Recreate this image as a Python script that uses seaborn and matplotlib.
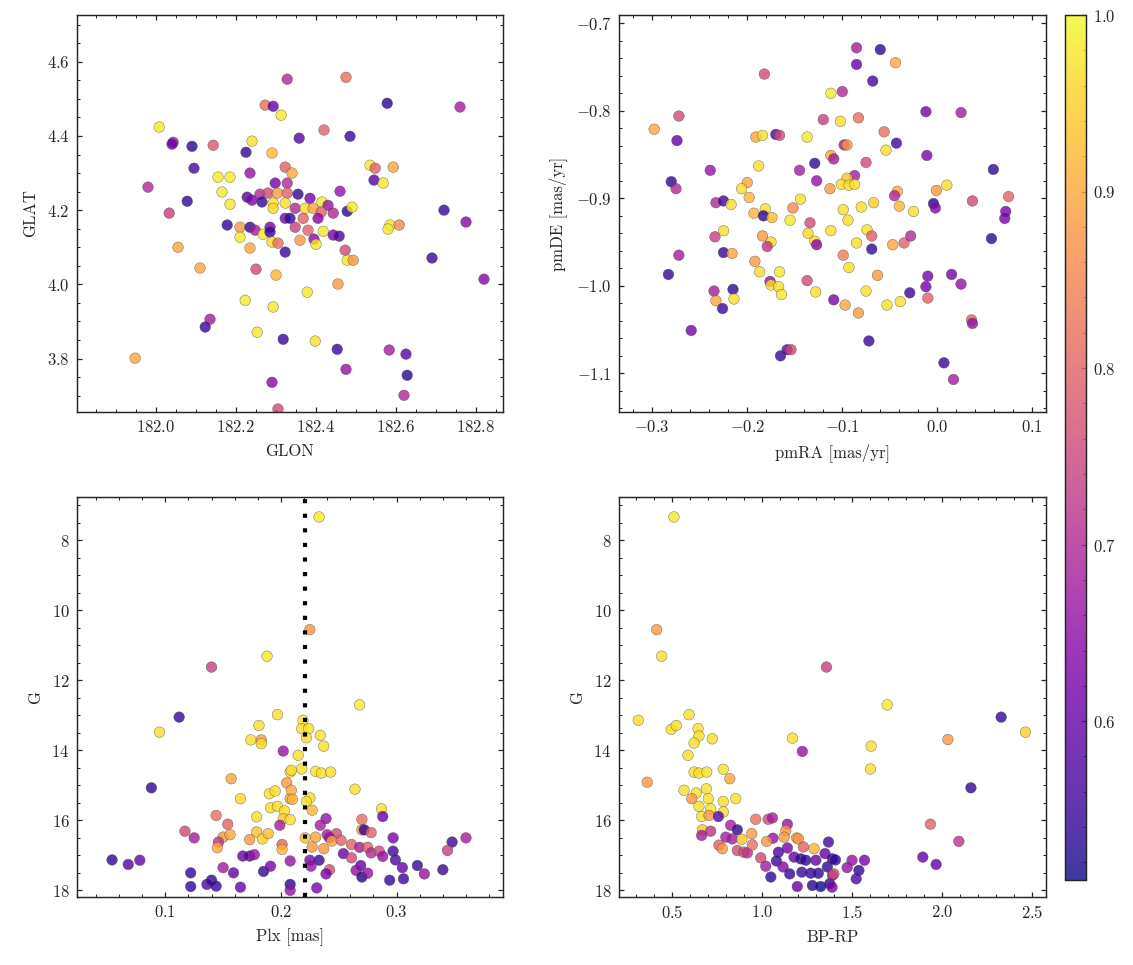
import matplotlib
matplotlib.use("Agg")
import matplotlib.pyplot as plt
from matplotlib.ticker import MultipleLocator, AutoMinorLocator
import seaborn as sns

# ---------------------------------------------
# Data
# ---------------------------------------------

# panel 1: sky position
glon = [182.008, 182.043, 182.040, 182.090, 182.143, 182.225, 182.240, 182.290, 182.273, 182.293,
        182.313, 182.328, 182.095, 181.980, 182.078, 182.033, 182.155, 182.185, 182.165, 182.185,
        182.235, 182.228, 182.240, 182.260, 182.265, 182.280, 182.298, 182.328, 182.323, 182.340,
        182.303, 182.328, 182.293, 182.293, 182.323, 182.475, 182.578, 182.760, 182.420, 182.358,
        182.485, 182.535, 182.548, 182.593, 182.545, 182.568, 182.460, 182.720, 182.355, 182.385,
        182.415, 182.430, 182.478, 182.490, 182.348, 182.373, 182.393, 182.413, 182.443, 182.055,
        182.110, 182.178, 182.210, 182.210, 182.235, 182.248, 182.268, 182.285, 182.285, 182.290,
        182.305, 182.323, 182.235, 182.250, 182.300, 182.223, 182.293, 182.135, 182.123, 182.253,
        182.318, 181.948, 182.290, 182.305, 182.323, 182.335, 182.348, 182.368, 182.405, 182.380,
        182.418, 182.395, 182.400, 182.360, 182.443, 182.458, 182.473, 182.478, 182.493, 182.585,
        182.580, 182.608, 182.775, 182.690, 182.820, 182.455, 182.378, 182.398, 182.453, 182.475,
        182.583, 182.625, 182.628, 182.620]
glat = [4.424, 4.383, 4.378, 4.372, 4.375, 4.356, 4.386, 4.354, 4.483, 4.480,
        4.456, 4.553, 4.313, 4.262, 4.224, 4.192, 4.289, 4.289, 4.249, 4.216,
        4.300, 4.235, 4.227, 4.243, 4.222, 4.246, 4.273, 4.273, 4.316, 4.300,
        4.246, 4.246, 4.219, 4.205, 4.219, 4.558, 4.488, 4.478, 4.416, 4.394,
        4.399, 4.321, 4.313, 4.316, 4.281, 4.273, 4.251, 4.200, 4.243, 4.232,
        4.222, 4.213, 4.197, 4.208, 4.205, 4.205, 4.205, 4.195, 4.192, 4.100,
        4.044, 4.160, 4.154, 4.127, 4.154, 4.146, 4.135, 4.154, 4.141, 4.114,
        4.111, 4.087, 4.098, 4.041, 4.025, 3.957, 3.939, 3.906, 3.885, 3.871,
        3.852, 3.801, 3.736, 3.664, 4.178, 4.178, 4.154, 4.178, 4.178, 4.146,
        4.143, 4.122, 4.108, 4.119, 4.133, 4.130, 4.092, 4.065, 4.065, 4.160,
        4.149, 4.160, 4.168, 4.071, 4.014, 4.001, 3.979, 3.847, 3.825, 3.771,
        3.823, 3.812, 3.755, 3.701]
prob_sky = [.98, .68, .60, .53, .78, .54, .97, .92, .82, .60,
            .98, .70, .57, .70, .54, .74, .98, .98, .98, .98,
            .66, .58, .62, .70, .54, .76, .62, .70, .80, .90,
            .88, .80, .97, .96, .97, .82, .53, .68, .80, .58,
            .55, .98, .80, .90, .58, .98, .66, .54, .54, .62,
            .98, .66, .53, .98, .70, .97, .90, .80, .70, .90,
            .90, .54, .88, .98, .54, .68, .98, .62, .55, .96,
            .82, .55, .90, .76, .92, .98, .98, .68, .55, .98,
            .55, .90, .64, .76, .62, .54, .74, .80, .64, .80,
            .98, .64, .98, .88, .62, .57, .76, .98, .88, .98,
            .98, .86, .64, .55, .64, .88, .98, .97, .55, .66,
            .68, .58, .53, .70]

# panel 2: proper motions
pmra = [-0.182, -0.112, -0.272, -0.298, -0.274, -0.120, -0.191, -0.184, -0.170, -0.166,
        -0.137, -0.188, -0.239, -0.280, -0.275, -0.200, -0.206, -0.198, -0.233, -0.225,
        -0.217, -0.193, -0.181, -0.183, -0.174, -0.144, -0.152, -0.155, -0.145, -0.129,
        -0.127, -0.112, -0.109, -0.113, -0.225, -0.234, -0.184, -0.175, -0.179, -0.134,
        -0.136, -0.129, -0.127, -0.112, -0.272, -0.225, -0.216, -0.283, -0.192, -0.187,
        -0.166, -0.176, -0.175, -0.167, -0.164, -0.137, -0.128, -0.109, -0.235, -0.233,
        -0.226, -0.215, -0.214, -0.259, -0.165, -0.158, -0.154,
        -0.085, -0.060, -0.044, -0.085, -0.068, -0.100, -0.012, 0.025, -0.102, -0.083,
        -0.056, -0.043, -0.054, -0.098, -0.095, -0.011, -0.075, 0.059, -0.087, -0.095,
        -0.101, -0.093, -0.087, -0.042, -0.045, -0.001, 0.010, -0.004, -0.002, 0.037,
        0.075, 0.072, 0.071, -0.099, -0.094, -0.080, -0.067, -0.040, -0.025, -0.074,
        -0.069, -0.069, -0.085, -0.047, -0.035, -0.028, 0.057, -0.099, -0.093, -0.063,
        -0.010, -0.012, -0.010, 0.015, 0.025, -0.029, -0.075, -0.053, -0.039, -0.097,
        -0.083, 0.036, 0.037, -0.072, 0.007, 0.017]
pmde = [-0.758, -0.780, -0.806, -0.821, -0.834, -0.810, -0.830, -0.828, -0.827, -0.828,
        -0.830, -0.863, -0.868, -0.881, -0.889, -0.882, -0.889, -0.899, -0.905, -0.903,
        -0.907, -0.917, -0.912, -0.920, -0.922, -0.901, -0.911, -0.925, -0.868, -0.860,
        -0.880, -0.851, -0.855, -0.889, -0.937, -0.944, -0.943, -0.950, -0.955, -0.928,
        -0.940, -0.949, -0.953, -0.937, -0.965, -0.962, -0.963, -0.987, -0.972, -0.984,
        -0.984, -0.995, -0.999, -1.001, -1.010, -0.994, -1.007, -1.016, -1.006, -1.017,
        -1.026, -1.004, -1.015, -1.051, -1.080, -1.073, -1.073,
        -0.728, -0.730, -0.745, -0.747, -0.766, -0.778, -0.801, -0.802, -0.812, -0.808,
        -0.824, -0.837, -0.845, -0.839, -0.839, -0.851, -0.859, -0.867, -0.874, -0.877,
        -0.884, -0.885, -0.884, -0.892, -0.897, -0.891, -0.885, -0.906, -0.911, -0.903,
        -0.898, -0.915, -0.923, -0.913, -0.925, -0.910, -0.905, -0.909, -0.915, -0.936,
        -0.943, -0.958, -0.951, -0.953, -0.951, -0.943, -0.946, -0.965, -0.979, -0.988,
        -0.989, -1.001, -1.014, -0.987, -0.998, -1.008, -1.006, -1.022, -1.018, -1.022,
        -1.031, -1.039, -1.043, -1.063, -1.088, -1.107]
prob_pm = [.76, .98, .76, .90, .60, .74, .90, .97, .56, .76,
           .98, .97, .66, .54, .70, .90, .97, .92, .70, .55,
           .97, .92, .97, .53, .93, .97, .86, .98, .68, .54,
           .66, .90, .68, .88, .97, .74, .88, .96, .72, .76,
           .96, .96, .64, .97, .68, .55, .90, .54, .88, .97,
           .98, .66, .97, .97, .98, .76, .97, .62, .68, .90,
           .55, .54, .97, .62, .55, .58, .76,
           .68, .54, .90, .60, .56, .70, .62, .68, .97, .82,
           .82, .56, .97, .68, .88, .63, .76, .54, .68, .94,
           .97, .97, .97, .90, .70, .88, .97, .53, .64, .76,
           .80, .62, .62, .97, .97, .97, .95, .92, .97, .97,
           .80, .54, .97, .90, .80, .70, .54, .84, .97, .88,
           .62, .62, .80, .62, .66, .55, .97, .97, .97, .90,
           .88, .80, .66, .55, .55, .68]

# panel 3: parallax vs G
plx = [0.188, 0.140, 0.112, 0.095, 0.197, 0.181, 0.174, 0.183, 0.183, 0.202,
       0.088, 0.157, 0.165, 0.190, 0.195, 0.191, 0.197, 0.205, 0.208, 0.208,
       0.203, 0.202, 0.179, 0.144, 0.154, 0.199, 0.117, 0.125, 0.150, 0.156,
       0.146, 0.145, 0.179, 0.184, 0.189, 0.173, 0.201, 0.201, 0.054, 0.068,
       0.078, 0.167, 0.173, 0.177, 0.122, 0.150, 0.159, 0.185, 0.191, 0.208,
       0.122, 0.136, 0.140, 0.144, 0.165, 0.208, 0.208,
       0.233, 0.225, 0.268, 0.219, 0.218, 0.224, 0.222, 0.234, 0.237, 0.215,
       0.209, 0.218, 0.230, 0.235, 0.243, 0.264, 0.209, 0.210, 0.225, 0.222,
       0.227, 0.208, 0.287, 0.288, 0.239, 0.234, 0.270, 0.270, 0.272, 0.278,
       0.221, 0.230, 0.240, 0.248, 0.242, 0.244, 0.252, 0.261, 0.268, 0.275,
       0.278, 0.285, 0.227, 0.237, 0.254, 0.261, 0.297, 0.297, 0.299, 0.288,
       0.305, 0.318, 0.324, 0.340, 0.348, 0.344, 0.360, 0.269, 0.265, 0.270,
       0.275, 0.294, 0.306, 0.242, 0.239, 0.233, 0.225, 0.226, 0.231]
g_plx = [11.31, 11.62, 13.05, 13.48, 12.98, 13.29, 13.70, 13.70, 13.81, 14.02,
         15.07, 14.81, 15.38, 15.24, 15.16, 15.64, 15.60, 14.93, 14.62, 15.38,
         15.73, 15.95, 15.90, 15.86, 16.11, 16.14, 16.31, 16.50, 16.48, 16.41,
         16.62, 16.78, 16.33, 16.53, 16.38, 16.55, 16.69, 16.83, 17.13, 17.26,
         17.14, 17.02, 17.02, 16.98, 17.50, 17.35, 17.50, 17.46, 17.31, 17.16,
         17.89, 17.83, 17.71, 17.88, 17.91, 17.83, 18.00,
         7.33, 10.55, 12.70, 13.14, 13.38, 13.38, 13.64, 13.57, 13.88, 14.14,
         14.57, 14.53, 14.60, 14.65, 14.62, 15.11, 15.14, 15.40, 15.36, 15.46,
         15.71, 15.98, 15.67, 15.89, 15.95, 16.14, 15.97, 16.27, 16.27, 16.35,
         16.50, 16.48, 16.41, 16.38, 16.50, 16.59, 16.57, 16.69, 16.77, 16.77,
         16.93, 16.88, 16.76, 16.81, 16.95, 17.07, 16.50, 16.88, 17.13, 17.03,
         17.35, 17.29, 17.53, 17.41, 16.62, 16.86, 16.50, 17.29, 17.43, 17.62,
         17.51, 17.71, 17.67, 17.41, 17.53, 17.14, 17.14, 17.31, 17.93]
prob_plx = [.98, .74, .55, .97, .97, .97, .97, .88, .97, .66,
            .54, .90, .96, .97, .97, .97, .97, .88, .97, .90,
            .97, .94, .97, .82, .80, .68, .76, .68, .88, .90,
            .72, .90, .93, .95, .93, .88, .80, .92, .54, .58,
            .60, .60, .58, .66, .54, .68, .60, .54, .62, .66,
            .54, .58, .54, .55, .60, .52, .66,
            .98, .88, .98, .97, .97, .97, .97, .97, .97, .97,
            .97, .97, .97, .97, .97, .97, .90, .92, .97, .97,
            .92, .97, .97, .60, .66, .68, .82, .88, .53, .80,
            .93, .90, .68, .76, .66, .90, .80, .80, .68, .80,
            .70, .76, .88, .88, .60, .76, .62, .56, .57, .66,
            .60, .55, .66, .55, .55, .74, .68, .60, .66, .52,
            .66, .54, .55, .76, .62, .55, .62, .66, .62]

# panel 4: colour-magnitude diagram
bprp = [0.509, 0.413, 0.441, 1.356, 0.311, 0.593, 0.494, 0.522, 0.643, 0.648,
        0.621, 0.722, 0.587, 1.167, 1.222, 0.361, 0.621, 0.648, 0.691, 0.783,
        0.819, 0.565, 0.633, 0.689, 0.608, 0.700, 0.783, 0.852, 0.648, 0.713,
        0.663, 0.704, 0.783, 0.756, 0.667, 0.713, 0.663, 0.824, 0.861, 0.797,
        0.833, 0.886, 0.759, 0.778, 0.861, 0.898, 0.917, 0.944, 0.941, 0.963,
        1.032, 1.056, 1.139, 1.130, 1.121, 1.059, 1.024, 1.191, 1.200, 1.228,
        1.139, 1.089, 1.287, 1.348, 1.367, 0.991, 1.019, 1.047, 1.078, 1.115,
        1.152, 1.176, 1.213, 1.241, 1.219, 1.194, 1.269, 1.311, 1.278, 1.324,
        1.297, 1.361, 1.389, 1.374, 1.389,
        1.693, 1.604, 1.600, 2.030, 2.326, 2.461, 2.158, 1.933, 2.091, 1.891,
        1.965, 1.498, 1.567, 1.471, 1.536, 1.521, 1.406, 1.397, 1.387]
g_cmd = [7.33, 10.55, 11.31, 11.62, 13.14, 12.98, 13.40, 13.29, 13.38, 13.59,
         13.79, 13.67, 14.14, 13.65, 14.03, 14.91, 14.62, 14.65, 14.62, 14.54,
         14.81, 15.14, 15.22, 15.10, 15.38, 15.38, 15.46, 15.38, 15.60, 15.67,
         15.89, 15.86, 15.76, 15.89, 16.27, 16.31, 16.43, 16.14, 16.27, 16.48,
         16.53, 16.54, 16.71, 16.81, 16.86, 16.91, 16.93, 16.70, 16.38, 15.97,
         15.97, 15.93, 16.11, 16.29, 16.48, 16.51, 16.60, 16.50, 16.53, 16.76,
         16.79, 16.91, 16.81, 16.95, 16.62, 17.07, 17.31, 17.62, 17.16, 17.33,
         17.53, 17.05, 17.10, 17.14, 17.48, 17.89, 17.51, 17.51, 17.86, 17.89,
         17.14, 17.33, 17.10, 17.81, 17.57,
         12.70, 13.88, 14.53, 13.69, 13.05, 13.48, 15.07, 16.11, 16.60, 17.05,
         17.26, 17.14, 17.14, 17.35, 17.43, 17.67, 17.13, 17.53, 17.91]
prob_cmd = [.98, .88, .97, .74, .97, .97, .97, .97, .97, .97,
            .97, .97, .97, .97, .66, .88, .97, .97, .97, .97,
            .90, .97, .97, .97, .88, .97, .97, .97, .97, .97,
            .97, .88, .97, .58, .94, .72, .68, .68, .54, .68,
            .68, .94, .80, .88, .76, .76, .72, .82, .88, .82,
            .76, .68, .66, .88, .88, .66, .88, .88, .88, .80,
            .62, .57, .92, .60, .56, .76, .68, .54, .55, .64,
            .54, .60, .54, .54, .55, .60, .54, .54, .53, .51,
            .60, .54, .54, .54, .66,
            .98, .97, .97, .88, .55, .95, .54, .80, .72, .60,
            .60, .66, .62, .66, .54, .57, .54, .76, .62]

plx_cut = 0.2205
p_min, p_max = 0.51, 1.0

# ---------------------------------------------
# Style
# ---------------------------------------------

sns.set_style("ticks")
plt.rcParams.update({
    "font.family": "serif",
    "font.serif": ["cmr10", "DejaVu Serif"],
    "mathtext.fontset": "cm",
    "axes.formatter.use_mathtext": True,
    "font.size": 8,
    "axes.labelsize": 8,
    "xtick.labelsize": 8,
    "ytick.labelsize": 8,
    "axes.linewidth": 0.7,
    "xtick.direction": "in",
    "ytick.direction": "in",
    "xtick.top": True,
    "ytick.right": True,
    "xtick.minor.visible": True,
    "ytick.minor.visible": True,
    "xtick.major.size": 2.6,
    "ytick.major.size": 2.6,
    "xtick.minor.size": 1.4,
    "ytick.minor.size": 1.4,
    "xtick.major.width": 0.6,
    "ytick.major.width": 0.6,
    "xtick.minor.width": 0.5,
    "ytick.minor.width": 0.5,
})

W, H = 1133, 965
fig = plt.figure(figsize=(W / 150, H / 150), dpi=150)


def box(x0, y0, x1, y1):
    return [x0 / W, 1 - y1 / H, (x1 - x0) / W, (y1 - y0) / H]


ax1 = fig.add_axes(box(77, 15, 503, 412))
ax2 = fig.add_axes(box(619, 15, 1046, 412))
ax3 = fig.add_axes(box(77, 497, 503, 897))
ax4 = fig.add_axes(box(619, 497, 1046, 897))
cax = fig.add_axes(box(1065, 15, 1086, 880))

kw = dict(cmap="plasma", vmin=p_min, vmax=p_max, s=26, alpha=0.8,
          edgecolor="0.25", linewidth=0.2)

sns.scatterplot(x=glon, y=glat, c=prob_sky, ax=ax1, **kw)
ax1.set_xlim(181.8025, 182.8675)
ax1.set_ylim(3.656, 4.726)
ax1.set_xlabel("GLON")
ax1.set_ylabel("GLAT")

sns.scatterplot(x=pmra, y=pmde, c=prob_pm, ax=ax2, **kw)
ax2.set_xlim(-0.335, 0.1144)
ax2.set_ylim(-1.1442, -0.6905)
ax2.set_xlabel("pmRA [mas/yr]")
ax2.set_ylabel("pmDE [mas/yr]")

sns.scatterplot(x=plx, y=g_plx, c=prob_plx, ax=ax3, **kw)
ax3.axvline(plx_cut, color="k", linestyle=(0, (1, 2.5)), linewidth=2)
ax3.set_xlim(0.0237, 0.392)
ax3.set_ylim(18.19, 6.76)
ax3.xaxis.set_major_locator(MultipleLocator(0.1))
ax3.xaxis.set_minor_locator(AutoMinorLocator(5))
ax3.set_xlabel("Plx [mas]")
ax3.set_ylabel("G")

sns.scatterplot(x=bprp, y=g_cmd, c=prob_cmd, ax=ax4, **kw)
ax4.set_xlim(0.204, 2.575)
ax4.set_ylim(18.19, 6.76)
ax4.set_xlabel("BP-RP")
ax4.set_ylabel("G")

for ax in (ax1, ax2, ax3, ax4):
    ax.grid(False)

cbar = fig.colorbar(ax1.collections[0], cax=cax)
cbar.set_ticks([0.6, 0.7, 0.8, 0.9, 1.0])
cbar.minorticks_on()
cbar.outline.set_linewidth(0.7)
cax.tick_params(which="both", direction="in")

fig.savefig("out.png", dpi=150)
